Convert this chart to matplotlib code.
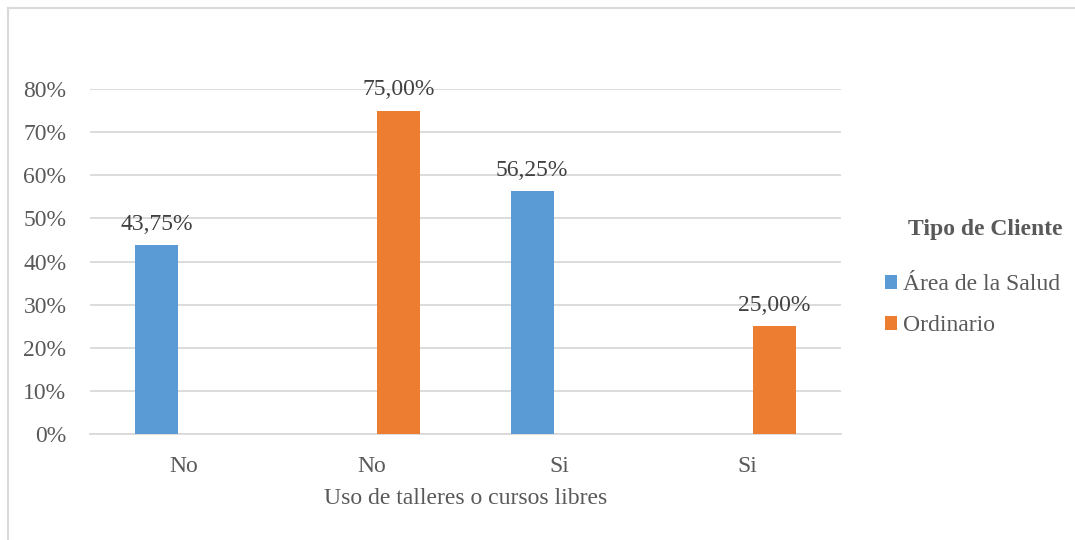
import matplotlib
matplotlib.use("Agg")
import matplotlib.pyplot as plt
from matplotlib.patches import Patch
from matplotlib.lines import Line2D
import numpy as np

categories = ["No", "No", "Si", "Si"]
series_names = ["Área de la Salud", "Ordinario"]
salud = [43.75, 0, 56.25, 0]
ordinario = [0, 75.00, 0, 25.00]
y_ticks = [0, 10, 20, 30, 40, 50, 60, 70, 80]

colors = ["#5B9BD5", "#ED7D31"]
text_color = "#595959"
grid_color = "#D9D9D9"
FS = 17
SERIF = ["Liberation Serif", "DejaVu Serif"]

plt.rcParams["font.family"] = SERIF

fig = plt.figure(figsize=(10.75, 5.4), dpi=100)
ax = fig.add_axes([90 / 1075, 1 - 434 / 540, 751 / 1075, 345 / 540])

x = np.arange(len(categories))
width = 0.23
offset = 0.145

for vals, off, col in [(salud, -offset, colors[0]), (ordinario, offset, colors[1])]:
    for xi, v in zip(x, vals):
        if v == 0:
            continue
        ax.bar(xi + off, v, width=width, color=col, zorder=3)
        ax.text(xi + off, v + 2.4, f"{v:.2f}%".replace(".", ","),
                ha="center", va="bottom", fontsize=FS, color="#404040", zorder=4)

ax.set_xlim(-0.5, len(categories) - 0.5)
ax.set_ylim(0, 80)
ax.set_yticks(y_ticks)
ax.set_yticklabels([f"{t}%" for t in y_ticks])
ax.set_xticks(x)
ax.set_xticklabels(categories)
ax.tick_params(axis="both", length=0, labelsize=FS, colors=text_color)
ax.tick_params(axis="y", pad=17)
ax.tick_params(axis="x", pad=16)
ax.grid(axis="y", color=grid_color, linewidth=1.3, zorder=0)
for s in ["top", "right", "left"]:
    ax.spines[s].set_visible(False)
ax.spines["bottom"].set_color(grid_color)
ax.spines["bottom"].set_linewidth(1.3)
ax.set_xlabel("Uso de talleres o cursos libres", fontsize=FS, color=text_color, labelpad=8)

# legend title and entries
fig.text(985 / 1075, 1 - 230 / 540, "Tipo de Cliente", ha="center", va="center",
         fontsize=FS, fontweight="bold", color=text_color, family=SERIF)
handles = [Patch(facecolor=c, edgecolor="none") for c in colors]
leg = fig.legend(handles, series_names, loc="upper left", bbox_to_anchor=(864 / 1075, 1 - 253 / 540),
                 frameon=False, prop={"family": SERIF, "size": FS},
                 handlelength=0.5, handleheight=0.5,
                 handletextpad=0.25, labelspacing=0.85)
for t in leg.get_texts():
    t.set_color(text_color)
    t.set_fontfamily(SERIF)

# thin chart frame
fig.add_artist(Line2D([8 / 1075, 8 / 1075], [0, 1 - 8 / 540], color=grid_color, linewidth=1.5))
fig.add_artist(Line2D([8 / 1075, 1], [1 - 8 / 540, 1 - 8 / 540], color=grid_color, linewidth=1.5))

fig.savefig("out.png", dpi=100, facecolor="white")
